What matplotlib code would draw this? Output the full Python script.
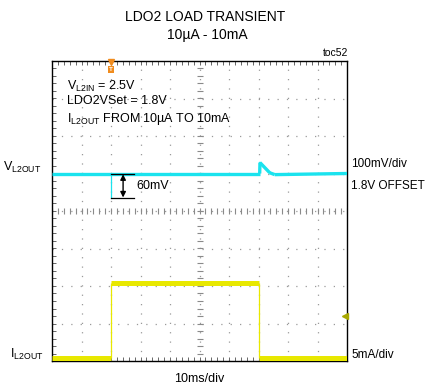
import numpy as np
import matplotlib.pyplot as plt

plt.rcParams['font.family'] = ['Liberation Sans', 'DejaVu Sans']
plt.rcParams['mathtext.fontset'] = 'custom'
plt.rcParams['mathtext.rm'] = 'Liberation Sans'

# scope traces (time in ms, 10ms/div)
t_v = [0, 70.4, 70.5, 73.8, 75.5, 100]
v_mv = [0, 0, 29, 2, -3, 0]          # V_L2OUT deviation, 100mV/div
t_i = [0, 20.0, 20.0, 70.3, 70.3, 100]
i_ma = [0.2, 0.2, 10.2, 10.2, 0.2, 0.2]  # I_L2OUT, 5mA/div

v_pos = 1.0     # trace position in divisions
i_pos = -3.95
W, H = 428, 387

fig = plt.figure(figsize=(W / 100, H / 100), dpi=100)
ax = fig.add_axes([52 / W, 1 - 361 / H, 295 / W, 300 / H])
ax.set_xlim(0, 100)
ax.set_ylim(-4, 4)

# graticule
grid_col = '#9a9a9a'
for gx in np.arange(10, 100, 10):
    ax.axvline(gx, color=grid_col, lw=0.9, ls=(0, (1, 6.5)), zorder=1)
for gy in np.arange(-3, 4, 1):
    ax.axhline(gy, color=grid_col, lw=0.9, ls=(0, (1, 6.5)), zorder=1)
mx = np.arange(0, 100.01, 2)
my = np.arange(-4, 4.01, 0.2)
ax.plot(np.full(len(my), 50), my, ls='none', marker='_', ms=4, mew=0.8, color='#8a8a8a', zorder=1)
ax.plot(mx, np.zeros(len(mx)), ls='none', marker='|', ms=4, mew=0.8, color='#8a8a8a', zorder=1)
ax.set_xticks(np.arange(0, 101, 2))
ax.set_yticks(np.arange(-4, 4.01, 0.2))
ax.tick_params(direction='in', length=3, width=0.7, color='#666666',
               top=True, right=False, labelbottom=False, labelleft=False)
for s in ax.spines.values():
    s.set_linewidth(1.0)

# traces
def draw(t, y, col, thick):
    for k in range(len(t) - 1):
        lw = thick if t[k] != t[k + 1] and abs(y[k + 1] - y[k]) < 0.5 else 0.9
        ax.plot(t[k:k + 2], y[k:k + 2], color=col, lw=lw, solid_capstyle='butt', zorder=3)

vy = [v_pos + v / 100 for v in v_mv]
iy = [i_pos + i / 5 for i in i_ma]
cyan = '#1ae3ee'
yel = '#e8e800'
draw(t_v, vy, cyan, 2.4)
ax.plot(t_v[2:4], vy[2:4], color=cyan, lw=1.2, zorder=3)
draw(t_i, iy, yel, 3.6)

# 60mV marker
ax.plot([20, 20], [v_pos, 0.34], color=cyan, lw=0.9, zorder=3)
ax.plot([20, 27.8], [v_pos, v_pos], color='black', lw=0.9, zorder=4)
ax.plot([20, 27.8], [0.34, 0.34], color='black', lw=0.9, zorder=4)
ax.annotate('', xy=(24.1, 0.36), xytext=(24.1, v_pos - 0.02),
            arrowprops=dict(arrowstyle='<|-|>', color='black', lw=1.0,
                            mutation_scale=8, shrinkA=0, shrinkB=0), zorder=5)
ax.text(28.7, 0.67, '60mV', fontsize=9, va='center', ha='left')

# trigger / level markers
ax.plot([20], [3.97], marker='v', ms=4, color='#f08c1e', clip_on=False, zorder=6)
ax.text(20, 3.78, 'T', fontsize=4.5, color='white', fontweight='bold', ha='center', va='center',
        bbox=dict(boxstyle='square,pad=0.15', fc='#f08c1e', ec='none'), zorder=6)
ax.plot([99.3], [-2.8], marker='<', ms=4, color='#a8a800', clip_on=False, zorder=6)

def ftext(x, y, s, **kw):
    fig.text(x / W, 1 - y / H, s, va='center', **kw)

ftext(205, 17, 'LDO2 LOAD TRANSIENT', fontsize=10, ha='center')
ftext(207, 35.5, '10µA - 10mA', fontsize=10, ha='center')
ftext(348, 53, 'toc52', fontsize=7.5, ha='right')
ftext(67, 86, r'V$_{\mathrm{L2IN}}$ = 2.5V', fontsize=9, ha='left')
ftext(67, 101, 'LDO2VSet = 1.8V', fontsize=9, ha='left')
ftext(67, 119, r'I$_{\mathrm{L2OUT}}$ FROM 10µA TO 10mA', fontsize=9, ha='left')
ftext(3, 167, r'V$_{\mathrm{L2OUT}}$', fontsize=9, ha='left')
ftext(10, 354, r'I$_{\mathrm{L2OUT}}$', fontsize=9, ha='left')
ftext(351, 164, '100mV/div', fontsize=8.5, ha='left')
ftext(351, 185.5, '1.8V OFFSET', fontsize=8.5, ha='left')
ftext(351, 355, '5mA/div', fontsize=8.5, ha='left')
ftext(199, 379, '10ms/div', fontsize=9, ha='center')

fig.savefig('out.png', dpi=100)
